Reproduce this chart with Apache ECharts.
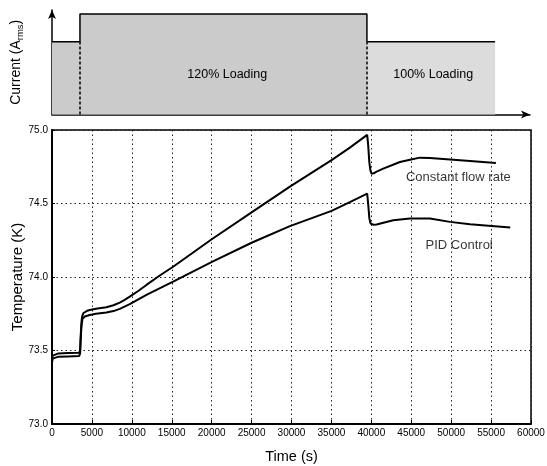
<!DOCTYPE html>
<html><head><meta charset="utf-8">
<script src="https://cdn.jsdelivr.net/npm/echarts@6/dist/echarts.min.js"></script>
<style>html,body{margin:0;padding:0;background:#fff}#c{width:547px;height:466px}</style>
</head><body><div id="c"></div>
<script>
// ---- Data ----
const loadTimes = [0, 3510, 39530, 55620];
const loadLevels = [100, 120, 100];
const loadLabels = ['120% Loading', '100% Loading'];
const loadLabelPos = [[22000, 76], [47850, 76]];

const xTicks = [0, 5000, 10000, 15000, 20000, 25000, 30000, 35000, 40000, 45000, 50000, 55000, 60000];
const yTicks = [73.0, 73.5, 74.0, 74.5, 75.0];

const timeConst = [0, 100, 300, 800, 2000, 3400, 3520, 3580, 3650, 3720, 3820, 3950, 4100, 4400, 4730, 5500, 6810, 7700, 8490, 9100, 9740, 10800, 11830, 13500, 15170, 20100, 25000, 29800, 35020, 37310, 39480, 39600, 39750, 39900, 40030, 40300, 40600, 41490, 43580, 44840, 46080, 47340, 49850, 52360, 55600];
const tempConst = [73.44, 73.465, 73.475, 73.48, 73.483, 73.485, 73.50, 73.58, 73.66, 73.71, 73.74, 73.755, 73.762, 73.770, 73.776, 73.784, 73.794, 73.808, 73.826, 73.845, 73.866, 73.905, 73.946, 74.01, 74.07, 74.26, 74.44, 74.615, 74.795, 74.88, 74.967, 74.90, 74.78, 74.72, 74.703, 74.705, 74.715, 74.737, 74.782, 74.798, 74.812, 74.81, 74.80, 74.789, 74.775];

const timePid = [0, 100, 300, 800, 2000, 3400, 3520, 3580, 3650, 3720, 3820, 3950, 4100, 4730, 5500, 6810, 7700, 8490, 9740, 11830, 15170, 20100, 25000, 29800, 35020, 37310, 39480, 39600, 39750, 39900, 40300, 40660, 42740, 44840, 46080, 47340, 49850, 52360, 57400];
const tempPid = [73.42, 73.445, 73.455, 73.458, 73.46, 73.462, 73.48, 73.56, 73.63, 73.68, 73.715, 73.727, 73.731, 73.742, 73.750, 73.758, 73.768, 73.783, 73.815, 73.878, 73.968, 74.104, 74.233, 74.346, 74.45, 74.51, 74.567, 74.50, 74.40, 74.364, 74.355, 74.357, 74.386, 74.398, 74.398, 74.398, 74.375, 74.359, 74.337];

const curveLabels = ['Constant flow rate', 'PID Control'];
const curveLabelPos = [[50900, 74.68], [51000, 74.217]];

// ---- Build ----
const FONT = 'Liberation Sans';
const topMin = 47.4, topMax = 122.9;
const pts1 = [
  [loadTimes[0], loadLevels[0]], [loadTimes[1], loadLevels[0]],
  [loadTimes[1], loadLevels[1]], [loadTimes[2], loadLevels[1]],
  [loadTimes[2], loadLevels[2]]
];
const pts2 = [[loadTimes[2], loadLevels[2]], [loadTimes[3], loadLevels[2]]];
const constData = timeConst.map((t, i) => [t, tempConst[i]]);
const pidData = timePid.map((t, i) => [t, tempPid[i]]);

const dotted = { show: true, lineStyle: { color: '#222', type: [1.5, 3], width: 1 } };

const chart = echarts.init(document.getElementById('c'), null, { renderer: 'canvas' });
chart.setOption({
  animation: false,
  backgroundColor: '#fff',
  textStyle: { fontFamily: FONT },
  grid: [
    { left: 52, right: 17, top: 10, bottom: 351.5, outerBoundsMode: 'none', containLabel: false },
    { left: 52, right: 16, top: 130, bottom: 42, show: true, borderColor: '#000', borderWidth: 1.5, outerBoundsMode: 'none', containLabel: false }
  ],
  xAxis: [
    { type: 'value', gridIndex: 0, min: 0, max: 60000, axisLabel: { show: false }, axisTick: { show: false }, splitLine: { show: false },
      axisLine: { show: true, onZero: false, symbol: ['none', 'arrow'], symbolSize: [6, 9], lineStyle: { color: '#000', width: 1.5 } } },
    { type: 'value', gridIndex: 1, min: 0, max: 60000, interval: 5000,
      axisLine: { show: true, onZero: false, lineStyle: { color: '#000', width: 2 } },
      axisTick: { show: true, inside: true, length: 4, lineStyle: { color: '#000' } },
      axisLabel: { color: '#000', fontSize: 10, margin: 4, fontFamily: FONT, formatter: v => String(v) },
      splitLine: dotted,
      name: 'Time (s)', nameLocation: 'middle', nameGap: 25, nameMoveOverlap: false,
      nameTextStyle: { color: '#000', fontSize: 14.5, fontFamily: FONT } }
  ],
  yAxis: [
    { type: 'value', gridIndex: 0, min: topMin, max: topMax, axisLabel: { show: false }, axisTick: { show: false }, splitLine: { show: false },
      axisLine: { show: true, onZero: false, symbol: ['none', 'arrow'], symbolSize: [6, 9], lineStyle: { color: '#000', width: 1.5 } },
      name: 'Current (A{s|rms})', nameLocation: 'middle', nameGap: 27, nameRotate: 90, nameMoveOverlap: false,
      nameTextStyle: { color: '#000', fontSize: 14, fontFamily: FONT, rich: { s: { fontSize: 9.5, verticalAlign: 'bottom', padding: [7, 0, 0, 0] } } } },
    { type: 'value', gridIndex: 1, min: 73, max: 75, interval: 0.5,
      axisLine: { show: true, onZero: false, lineStyle: { color: '#000', width: 2 } },
      axisTick: { show: true, inside: true, length: 3, lineStyle: { color: '#000' } },
      axisLabel: { color: '#000', fontSize: 10, margin: 4, fontFamily: FONT, formatter: v => v.toFixed(1) },
      splitLine: dotted,
      name: 'Temperature (K)', nameLocation: 'middle', nameGap: 27, nameRotate: 90, nameMoveOverlap: false,
      nameTextStyle: { color: '#000', fontSize: 15, fontFamily: FONT } }
  ],
  series: [
    { type: 'line', xAxisIndex: 0, yAxisIndex: 0, data: pts1, symbol: 'none', silent: true,
      lineStyle: { color: '#000', width: 1.5 }, areaStyle: { color: '#cbcbcb', origin: 'start', opacity: 1 },
      markLine: { silent: true, symbol: 'none', label: { show: false },
        lineStyle: { color: '#000', type: [3, 2], width: 1.5 },
        data: [
          [{ coord: [loadTimes[1], topMin] }, { coord: [loadTimes[1], loadLevels[0]] }],
          [{ coord: [loadTimes[2], topMin] }, { coord: [loadTimes[2], loadLevels[2]] }]
        ] } },
    { type: 'line', xAxisIndex: 0, yAxisIndex: 0, data: pts2, symbol: 'none', silent: true,
      lineStyle: { color: '#000', width: 1.5 }, areaStyle: { color: '#dcdcdc', origin: 'start', opacity: 1 } },
    { type: 'line', xAxisIndex: 1, yAxisIndex: 1, data: constData, symbol: 'none', silent: true,
      lineStyle: { color: '#000', width: 2 } },
    { type: 'line', xAxisIndex: 1, yAxisIndex: 1, data: pidData, symbol: 'none', silent: true,
      lineStyle: { color: '#000', width: 2 } },
    { type: 'scatter', xAxisIndex: 1, yAxisIndex: 1, silent: true, symbolSize: 1, itemStyle: { color: 'rgba(0,0,0,0)' },
      data: curveLabels.map((n, i) => ({ name: n, value: curveLabelPos[i] })),
      label: { show: true, position: 'inside', formatter: '{b}', color: '#000', fontSize: 13, fontFamily: FONT } }
  ]
});
// Region labels in the current panel, placed through the top grid's scales
chart.setOption({
  graphic: loadLabels.map((t, i) => {
    const p = chart.convertToPixel({ gridIndex: 0 }, loadLabelPos[i]);
    return { type: 'text', x: p[0], y: p[1], z: 100, silent: true,
      style: { text: t, fill: '#000', font: '12.5px "Liberation Sans"', align: 'center', verticalAlign: 'middle' } };
  })
});
</script></body></html>
